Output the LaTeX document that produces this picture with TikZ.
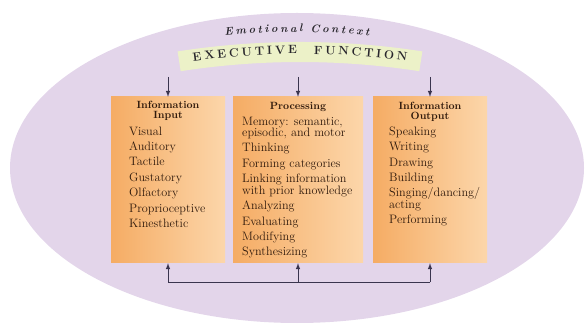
\documentclass[tikz,border=0pt]{standalone}
\usepackage{tikz}
\usetikzlibrary{arrows, positioning, decorations.text}

\definecolor{lavender}{RGB}{227,213,234}
\definecolor{bandgreen}{RGB}{236,241,200}
\definecolor{boxleft}{RGB}{245,172,100}
\definecolor{boxright}{RGB}{252,214,170}
\definecolor{boxtext}{RGB}{48,26,12}
\definecolor{linkcol}{RGB}{58,52,78}
\definecolor{arctext}{RGB}{40,38,44}

\begin{document}
\begin{tikzpicture}[x=1pt,y=1pt,>=latex]
    \tikzstyle{stage} = [rectangle, inner sep=0pt, left color=boxleft, right color=boxright, minimum width=114pt, minimum height=166pt]
    \tikzstyle{head}  = [align=center, inner sep=0pt, text=boxtext, font={\bfseries\fontsize{10.5}{10.5}\selectfont\lineskiplimit-20pt\relax}]
    \tikzstyle{items} = [align=left, inner sep=0pt, anchor=north west, text=boxtext, font={\fontsize{12.2}{11.5}\selectfont\lineskiplimit-20pt\relax}]
    \tikzstyle{link}  = [line width=1pt, draw=linkcol]

    \useasboundingbox (0,0) rectangle (586,324);

    % Emotional context .........................
    \fill[lavender] (297,156) ellipse [x radius=287pt, y radius=155pt];
    \coordinate (ecstart) at (211.7,286.8);
    \path[decorate, decoration={text along path, text align=center, text color=arctext,
        text={|\bfseries\itshape\fontsize{11}{11}\selectfont|{E\kern2.6pt}{m\kern2.6pt}{o\kern2.6pt}{t\kern2.6pt}{i\kern2.6pt}{o\kern2.6pt}{n\kern2.6pt}{a\kern2.6pt}{l\kern8pt}{C\kern2.6pt}{o\kern2.6pt}{n\kern2.6pt}{t\kern2.6pt}{e\kern2.6pt}{x\kern2.6pt}{t}}}]
        (ecstart) arc[start angle=97, end angle=83, radius=700pt];

    % Executive function band .........................
    \coordinate (banda) at (177.6,272.6);
    \coordinate (bandb) at (419.3,252.8);
    \fill[bandgreen] (banda) arc[start angle=98.8, end angle=81.2, radius=800pt] -- (bandb)
        arc[start angle=81.2, end angle=98.8, radius=780pt] -- cycle;
    \coordinate (efstart) at (176.7,260.3);
    \path[decorate, decoration={text along path, text align=center, text color=arctext,
        text={|\bfseries\fontsize{12}{12}\selectfont|{E\kern2.8pt}{X\kern2.8pt}{E\kern2.8pt}{C\kern2.8pt}{U\kern2.8pt}{T\kern2.8pt}{I\kern2.8pt}{V\kern2.8pt}{E\kern17pt}{F\kern2.7pt}{U\kern2.7pt}{N\kern2.7pt}{C\kern2.7pt}{T\kern2.7pt}{I\kern2.7pt}{O\kern2.7pt}{N}}}]
        (efstart) arc[start angle=99, end angle=81, radius=788pt];

    % Stages .........................
    \node[stage] (inbox) at (168,144) {};
    \node[stage, minimum width=130pt] (procbox) at (298,144) {};
    \node[stage] (outbox) at (430,144) {};

    \node[head, below=4pt of inbox.north] (inhead) {Information\\Input};
    \node[head, below=5.5pt of procbox.north] (prochead) {Processing};
    \node[head, below=5pt of outbox.north] (outhead) {Information\\Output};

    \node[items] (inlist) at (129,197.5) {Visual\\[3.9pt] Auditory\\[3.9pt] Tactile\\[3.9pt] Gustatory\\[3.9pt]
        Olfactory\\[3.9pt] Proprioceptive\\[3.9pt] Kinesthetic};
    \node[items] (proclist) at (242,207.5) {Memory: semantic,\\ episodic, and motor\\[3.9pt] Thinking\\[3.9pt]
        Forming categories\\[3.9pt] Linking information\\ with prior knowledge\\[3.9pt] Analyzing\\[3.9pt]
        Evaluating\\[3.9pt] Modifying\\[3.9pt] Synthesizing};
    \node[items] (outlist) at (389,197.5) {Speaking\\[3.9pt] Writing\\[3.9pt] Drawing\\[3.9pt] Building\\[3.9pt]
        Singing/dancing/\\ acting\\[3.9pt] Performing};

    % Connectors .........................
    \coordinate (intop) at (168,247);
    \coordinate (proctop) at (298,247);
    \coordinate (outtop) at (430,247);
    \draw[link,->] (intop) -- (inbox);
    \draw[link,->] (proctop) -- (procbox);
    \draw[link,->] (outtop) -- (outbox);

    \coordinate (inbot) at (168,42);
    \coordinate (procbot) at (298,42);
    \coordinate (outbot) at (430,42);
    \draw[link] (inbot) -- (outbot);
    \draw[link,->] (inbot) -- (inbox);
    \draw[link,->] (procbot) -- (procbox);
    \draw[link,->] (outbot) -- (outbox);

\end{tikzpicture}
\end{document}
